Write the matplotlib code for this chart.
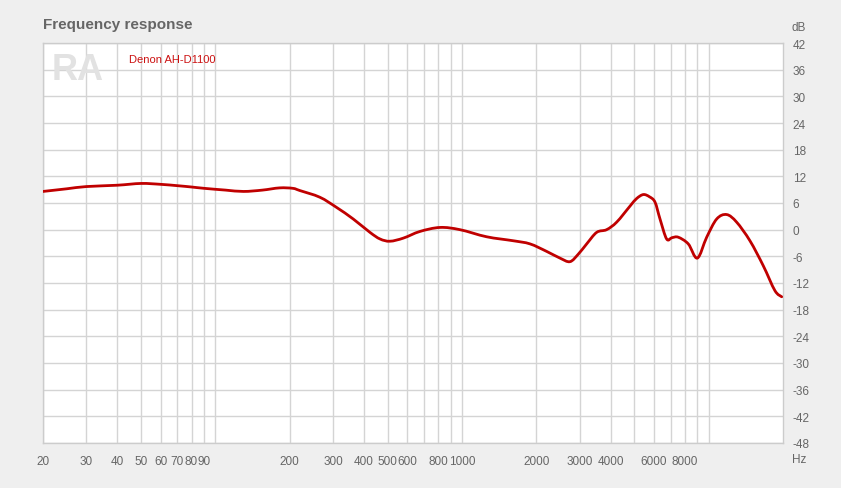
import numpy as np
import matplotlib.pyplot as plt
from matplotlib.path import Path
from matplotlib.patches import PathPatch
from matplotlib.ticker import FixedLocator, NullLocator

plt.rcParams['font.family'] = ['Liberation Sans', 'DejaVu Sans']

# 数据: 频响点 (Hz, dB)
freq = [20, 25, 30, 40, 50, 60, 70, 80, 90, 110, 130, 155, 182, 206, 220, 265,
        310, 362, 423, 465, 510, 578, 675, 814, 980, 1258, 1614, 1885, 2204,
        2494, 2738, 2960, 3200, 3514, 3855, 4235, 4795, 5100, 5430, 5750, 6055,
        6345, 6750, 7100, 7525, 8260, 8990, 9810, 10770, 11820, 12970, 14690,
        16630, 18540, 19760]
spl = [8.6, 9.2, 9.7, 10.0, 10.4, 10.2, 9.9, 9.6, 9.3, 8.9, 8.6, 8.9, 9.4, 9.3,
       8.8, 7.3, 5.0, 2.4, -0.6, -2.1, -2.6, -1.9, -0.4, 0.5, 0.0, -1.6, -2.5,
       -3.2, -4.9, -6.4, -7.2, -5.5, -3.2, -0.6, 0.0, 1.7, 5.3, 7.0, 7.9, 7.4,
       6.2, 2.4, -2.1, -1.8, -1.7, -3.2, -6.4, -1.7, 2.4, 3.4, 1.7, -2.5, -8.1,
       -13.7, -15.1]

grid_freqs = [20, 30, 40, 50, 60, 70, 80, 90, 100, 200, 300, 400, 500, 600, 700, 800, 900,
              1000, 2000, 3000, 4000, 5000, 6000, 7000, 8000, 9000, 10000]
xtick_labels = [20, 30, 40, 50, 60, 70, 80, 90, 200, 300, 400, 500, 600, 800, 1000,
                2000, 3000, 4000, 6000, 8000]
yticks = list(range(-48, 43, 6))

fig = plt.figure(figsize=(8.41, 4.89), dpi=100, facecolor='#efefef')
ax = fig.add_axes([43 / 841, 45 / 489, 740 / 841, 400 / 489])
ax.set_facecolor('white')

ax.set_xscale('log')
ax.set_xlim(20, 20000)
ax.set_ylim(-48, 42)

for f in grid_freqs:
    ax.axvline(f, color='#d4d4d4', lw=1, zorder=1)
for y in yticks:
    ax.axhline(y, color='#d4d4d4', lw=1, zorder=1)

# 用贝塞尔曲线平滑连接测量点 (在对数频率空间)
lx = np.log10(freq)
ly = np.array(spl)
n = len(lx)
verts = [(freq[0], spl[0])]
codes = [Path.MOVETO]
for i in range(n - 1):
    i0 = max(i - 1, 0)
    i3 = min(i + 2, n - 1)
    c1 = (lx[i] + (lx[i + 1] - lx[i0]) / 6, ly[i] + (ly[i + 1] - ly[i0]) / 6)
    c2 = (lx[i + 1] - (lx[i3] - lx[i]) / 6, ly[i + 1] - (ly[i3] - ly[i]) / 6)
    verts += [(10 ** c1[0], c1[1]), (10 ** c2[0], c2[1]), (freq[i + 1], spl[i + 1])]
    codes += [Path.CURVE4] * 3
ax.add_patch(PathPatch(Path(verts, codes), fill=False, edgecolor='#c00000', lw=2,
                       zorder=3, capstyle='round', joinstyle='round'))

ax.xaxis.set_major_locator(FixedLocator(xtick_labels))
ax.xaxis.set_minor_locator(NullLocator())
ax.set_xticklabels([str(v) for v in xtick_labels])
ax.yaxis.tick_right()
ax.set_yticks(yticks)
ax.set_yticklabels([str(v) for v in yticks])
ax.tick_params(axis='x', length=0, pad=9, labelsize=8.5, labelcolor='#666666')
ax.tick_params(axis='y', length=0, pad=7, labelsize=8.5, labelcolor='#666666')
for lab in ax.get_yticklabels():
    lab.set_horizontalalignment('left')

for s in ax.spines.values():
    s.set_color('#cccccc')
    s.set_linewidth(1)

fig.text(43 / 841, 1 - 25 / 489, 'Frequency response', fontsize=11, fontweight='bold',
         color='#666666', va='center', ha='left')
fig.text(792 / 841, 1 - 28 / 489, 'dB', fontsize=8.5, color='#666666', va='center', ha='left')
fig.text(792 / 841, 1 - 460 / 489, 'Hz', fontsize=8.5, color='#666666', va='center', ha='left')
fig.text(129 / 841, 1 - 60 / 489, 'Denon AH-D1100', fontsize=8, color='#cc1111', va='center', ha='left')
fig.text(52 / 841, 1 - 71 / 489, 'RA', fontsize=26, fontweight='bold',
         color='#e2e2e2', va='center', ha='left', zorder=0)

fig.savefig('out.png', dpi=100, facecolor=fig.get_facecolor())
